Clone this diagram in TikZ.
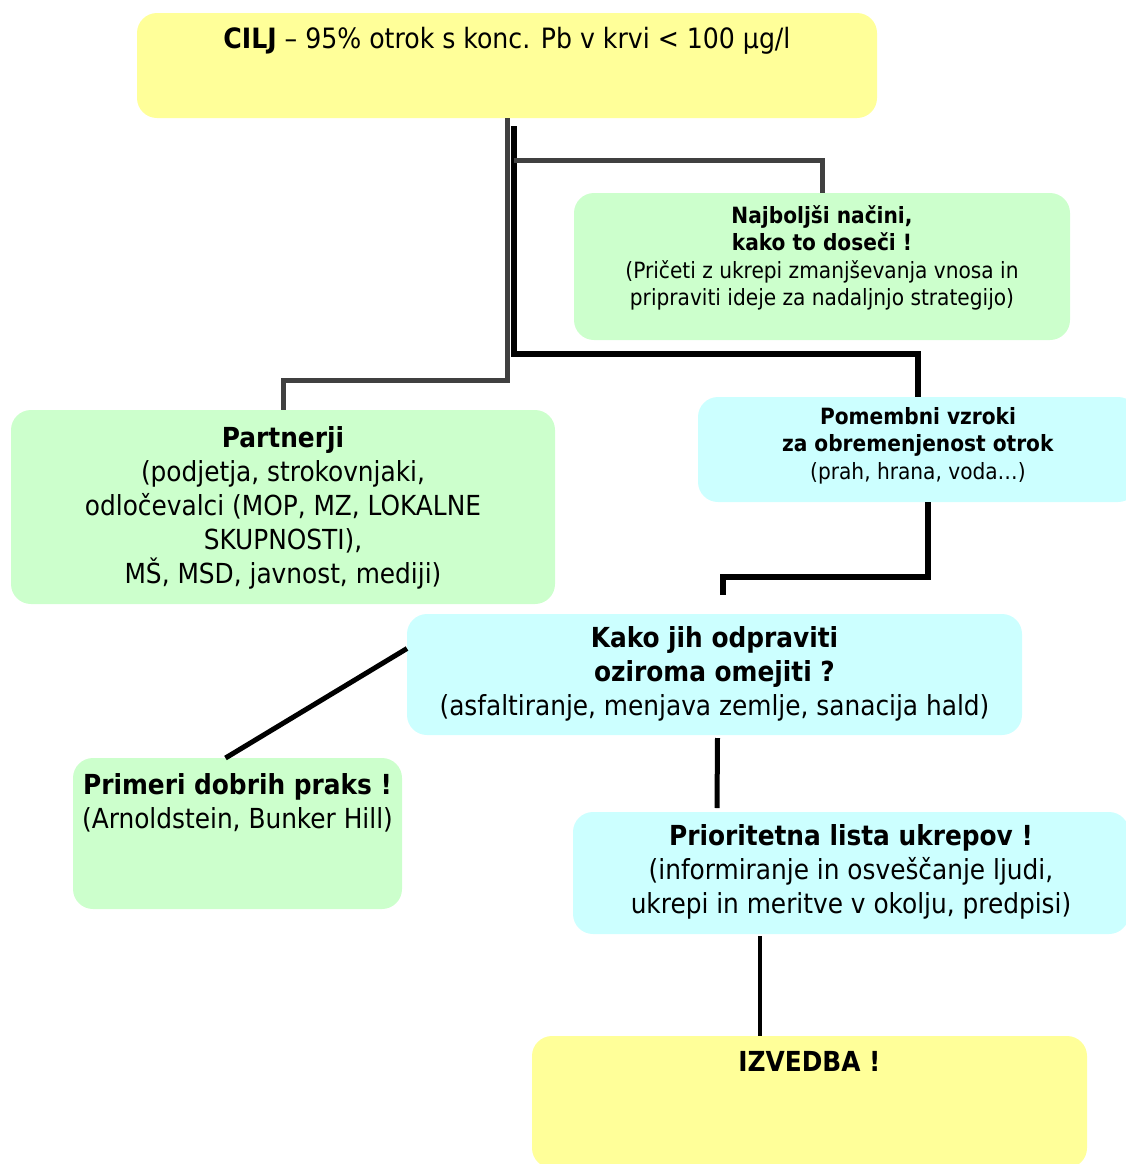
\documentclass[tikz,border=0pt]{standalone}
\usepackage{fontspec}
\setmainfont{DejaVu Sans Condensed}
\usetikzlibrary{positioning}
\newcommand{\pxw}{0.75pt}
\definecolor{paleyellow}{HTML}{FFFF99}
\definecolor{palegreen}{HTML}{CCFFCC}
\definecolor{palecyan}{HTML}{CCFFFF}
\definecolor{linegray}{HTML}{404040}

\begin{document}
\begin{tikzpicture}[x=0.75pt,y=-0.75pt,
  box/.style={rounded corners=15pt,inner sep=0pt,outer sep=0pt},
  txt/.style={align=center,inner sep=0pt},
  bigtxt/.style={txt,font=\fontsize{20.7}{25.5}\selectfont},
  smalltxt/.style={txt,font=\fontsize{16.8}{20.6}\selectfont},
  link/.style={line width=4.5pt,black},
  graylink/.style={line width=3.75pt,linegray}]
  \useasboundingbox (0,0) rectangle (1126,1164);
  % boxes
  \node[box,fill=paleyellow,minimum width=740*\pxw,minimum height=105*\pxw] (cilj) at (507,65.5) {};
  \node[box,fill=palegreen,minimum width=496*\pxw,minimum height=147*\pxw] (nacini) at (822,266.5) {};
  \node[box,fill=palegreen,minimum width=544*\pxw,minimum height=194*\pxw] (partner) at (283,507) {};
  \node[box,fill=palecyan,minimum width=440*\pxw,minimum height=105*\pxw] (vzroki) at (918,449.5) {};
  \node[box,fill=palecyan,minimum width=615*\pxw,minimum height=121*\pxw] (kako) at (714.5,674.5) {};
  \node[box,fill=palegreen,minimum width=329*\pxw,minimum height=151*\pxw] (primeri) at (237.5,833.5) {};
  \node[box,fill=palecyan,minimum width=556*\pxw,minimum height=122*\pxw] (lista) at (851,873) {};
  \node[box,fill=paleyellow,minimum width=555*\pxw,minimum height=132*\pxw] (izvedba) at (809.5,1102) {};
  % texts
  \node[txt,font=\fontsize{21}{25}\selectfont,below=14*\pxw of cilj.north] (cilj-t) {\textbf{CILJ} – 95\% otrok s konc. Pb v krvi < 100 μg/l};
  \node[smalltxt,below=12*\pxw of nacini.north] (nacini-t) {\textbf{Najboljši načini,}\\ \textbf{kako to doseči !}\\
    (Pričeti z ukrepi zmanjševanja vnosa in\\ pripraviti ideje za nadaljnjo strategijo)};
  \node[bigtxt,below=16*\pxw of partner.north] (partner-t) {\textbf{Partnerji}\\ (podjetja, strokovnjaki,\\
    odločevalci (MOP, MZ, LOKALNE\\ SKUPNOSTI),\\ MŠ, MSD, javnost, mediji)};
  \node[smalltxt,below=10*\pxw of vzroki.north] (vzroki-t) {\textbf{Pomembni vzroki}\\ \textbf{za obremenjenost otrok}\\ (prah, hrana, voda…)};
  \node[bigtxt,below=12*\pxw of kako.north] (kako-t) {\textbf{Kako jih odpraviti}\\ \textbf{oziroma omejiti ?}\\
    (asfaltiranje, menjava zemlje, sanacija hald)};
  \node[bigtxt,below=15*\pxw of primeri.north] (primeri-t) {\textbf{Primeri dobrih praks !}\\ (Arnoldstein, Bunker Hill)};
  \node[bigtxt,below=12*\pxw of lista.north] (lista-t) {\textbf{Prioritetna lista ukrepov !}\\
    (informiranje in osveščanje ljudi,\\ ukrepi in meritve v okolju, predpisi)};
  \node[bigtxt,below=15*\pxw of izvedba.north] (izvedba-t) {\textbf{IZVEDBA !}};
  % connectors
  \coordinate (trunk) at (513.5,126);
  \coordinate (branch) at (513.5,160);
  \coordinate (knee) at (513.5,354);
  \coordinate (kako-in) at (723,595);
  \draw[graylink] (cilj.south) -- ++(0,262) -| (partner.north);
  \draw[link] (trunk) -- (knee) -| (vzroki.north);
  \draw[graylink] (branch) -| (nacini.north);
  \draw[link] ([xshift=10*\pxw]vzroki.south) -- ++(0,75) -| (kako-in);
  \draw[link,line width=3.75pt] ([yshift=26*\pxw]kako.west) -- ([xshift=-12*\pxw]primeri.north);
  \draw[link,line width=3.75pt] ([xshift=3*\pxw,yshift=-3*\pxw]kako.south) -- ([xshift=-134*\pxw,yshift=4*\pxw]lista.north);
  \draw[link,line width=3pt] ([xshift=-91*\pxw,yshift=-2*\pxw]lista.south) -- ([xshift=-49.5*\pxw]izvedba.north);
\end{tikzpicture}
\end{document}
